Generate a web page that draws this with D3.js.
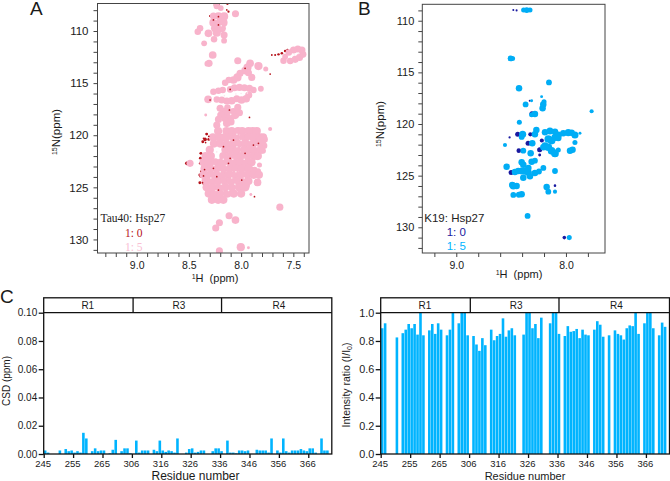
<!DOCTYPE html>
<html>
<head>
<meta charset="utf-8">
<script src="https://cdn.jsdelivr.net/npm/d3@7"></script>
<style>
html, body { margin: 0; padding: 0; background: #fff; }
svg { display: block; }
text { font-family: "Liberation Sans", Arial, sans-serif; fill: #1a1a1a; }
</style>
</head>
<body>
<svg width="670" height="481"></svg>
<script>
// **** data ****
// spectrum peaks are [1H ppm, 15N ppm, intensity]

// Tau40 1:5, outer peaks
var tauPeaks5 = [
    [8.054,108.34,6],[8.233,107.6,5],[8.195,107.8,4],[8.265,108.56,6],[8.217,108.6,8],[8.163,108.6,8],
    [8.265,109.2,8],[8.217,109.26,8],[8.169,109.2,8],[8.249,109.74,8],[8.185,109.74,8],[8.313,110.22,7],
    [8.233,110.16,8],[8.163,110.38,6],[8.393,109.74,5],[8.415,110.06,5],[8.354,111.18,4],[8.259,110.8,5],[8.163,110.93,4],
    [7.418,111.82,6],[7.457,111.73,6],[7.498,111.82,6],[7.543,112.05,5],[7.578,112.46,4],[7.594,112.85,5],
    [7.53,112.88,5],[7.482,112.72,6],[7.441,112.53,6],[7.409,112.24,6],
    [8.272,112.3,7],[8.307,113.1,6],[8.323,113.13,4],[8.032,112.85,6],[7.834,113.36,8],[7.914,113.1,7],[7.939,113.5,8],
    [7.962,113.8,7],[7.93,114,6],[7.764,113.65,3],[7.898,114.45,6],[8.01,114.06,6],[8.035,114.45,8],[8.073,114.7,7],
    [8.118,114.7,5],[8.153,114.96,5],[8.105,115.6,5],[8.064,115.44,6],[8.016,115.41,6],[7.968,115.44,6],[7.92,115.5,6],
    [7.882,115.66,5],[7.811,115.54,4],[8.265,115.82,5],[8.217,115.73,5],[8.176,115.66,5],[7.927,116.14,6],[7.952,116.5,7],
    [7.997,116.62,7],[8.042,116.5,6],[8.09,116.69,7],[8.137,116.72,6],[8.185,116.62,6],[8.233,116.56,5],[8.316,116.55,7],
    [8.201,117.42,6],[8.163,117.74,7],[8.121,117.9,8],[8.073,117.78,8],[8.032,117.33,6],[8.131,117.33,5],[8.195,118.06,6],
    [8.15,118.38,8],[8.105,118.29,8],[8.058,118.06,8],[8.016,117.84,6],[8.099,118.7,7],[8.137,118.86,7],[8.217,118.48,6],[8.233,119.02,6],
    [8.489,122.7,6],[7.629,126.9,6],[8.115,127.73,6],[8.054,128.14,7],[8.208,128.4,6],[8.243,128.9,6],[8.208,131.1,6],
    [8.003,130.74,8],[7.93,130.8,1],[8.339,118.06,1],[7.722,119.4,2],[7.907,125.68,1],[7.824,122.86,3],[7.843,124.53,7],
    [7.872,123.34,5],[7.914,123.28,6],[7.834,123.4,3],[8.0,125.5,3],[7.946,124.78,5],[7.775,120.4,5],[7.78,121.0,5],[7.79,121.5,4]
];
// the packed centre of the Tau40 spectrum, one list of 1H shifts per 15N row
var tauRowN = [119.6,120.2,120.8,121.4,122.0,122.6,123.2,123.8,124.4,125.0,125.6,126.2];
var tauRowH = [
    [8.22,8.14,8.09,8.03,7.99,7.93,7.89,7.85],
    [8.27,8.21,8.16,8.10,8.05,7.98,7.93,7.87,7.82,7.79],
    [8.26,8.20,8.13,8.07,8.02,7.96,7.90,7.85,7.80],
    [8.30,8.15,8.09,8.04,7.97,7.92,7.87,7.81],
    [8.34,8.29,8.17,8.11,8.05,8.0,7.94,7.88,7.84],
    [8.36,8.31,8.25,8.19,8.13,8.07,8.01,7.95,7.90],
    [8.35,8.29,8.23,8.17,8.11,8.05,7.99,7.93],
    [8.36,8.30,8.24,8.18,8.12,8.06,8.00,7.94,7.88,7.83],
    [8.34,8.28,8.22,8.16,8.10,8.04,7.98,7.93],
    [8.33,8.27,8.21,8.15,8.09,8.02,7.96],
    [8.31,8.26,8.20,8.13,8.07,8.00],
    [8.28,8.22,8.17]
];
// Tau40 1:0, the contours that stick out from under the 1:5 peaks
var tauPeaks0 = [
    [8.33,119.89,1],[8.345,120.4,1.5],[8.367,120.62,1],[8.31,120.4,1],[8.28,120.85,1],[8.385,121.74,1],[8.38,123.5,1],
    [8.385,123.9,1.5],[8.395,123.82,1],[8.395,124.56,1],[8.36,124.6,1],[8.39,122.7,1],[8.39,122.2,1],[8.52,122.7,1.5],
    [8.425,110.13,1],[8.249,107.5,1],[8.217,107.45,1],[8.131,107.4,.6],[8.297,108.56,.6],[8.121,108.14,.6],
    [7.706,112.3,.4],[7.674,112.3,.5],[7.642,112.24,.7],[7.61,112.14,.8],[7.578,111.92,.8],[7.556,111.82,.6]
];
// small pieces of the 1:0 contours that show through on top
var tauSpecks0 = [
    [7.962,113.58],[8.217,109.42],[8.105,115.6],[8.233,123.98],[8.121,122.7],[8.105,122.22],[7.882,120.94],[7.962,121.74],
    [8.217,125.26],[7.994,124.3],[8.265,123.18],[8.169,121.1],[8.112,117.58],[7.92,118.29],[7.722,114.13],[7.872,125.9],
    [8.073,120.46],[7.834,120.78],[8.297,116.62],[8.217,108.62],[8.265,108.94],[8.137,107.98],[8.36,123.9],[8.35,123.3],
    [8.36,120.3],[8.34,120.7],[8.31,120.1],[8.37,124.55]
];
// pale gaps between peaks inside the Tau40 blobs
var tauGaps = [
    [8.233,121.6],[8.04,119.9],[8.18,119.4],[8.11,120.5],[8.0,120.5],[7.92,120.5],[7.85,121.1],[8.04,121.1],[8.17,122.3],
    [8.08,122.3],[7.97,122.3],[8.26,122.9],[8.14,122.9],[8.05,123.5],[8.2,123.5],[8.29,124.1],[8.09,124.1],[7.97,124.1],
    [8.19,124.7],[8.06,124.7],[8.24,125.3],[8.12,125.3],[8.0,116.0],[7.94,115.95],[8.05,116.05],[8.16,116.2],[7.49,112.3],
    [7.45,112.15],[8.24,108.9],[8.19,109.5],[8.1,118.0]
];

// K19 1:5
var k19Peaks5 = [
    [8.386,108.97,3],[8.358,108.97,4],[8.328,108.97,3],[8.505,113.65,4],[8.487,113.65,3],[8.155,115.97,4],[8.428,116.55,5],
    [8.368,118.1,4],[8.313,117.75,1],[8.222,117.35,1],[8.207,118.1,5],[8.213,118.48,5],[8.2,117.85,3],[8.283,119.03,5],[8.313,119.1,3],
    [8.425,119.84,3],[8.395,121.0,6],[8.404,121.25,4],[8.27,120.58,5],[8.283,121.0,5],[8.556,122.03,2],[8.307,121.87,5],
    [8.389,122.58,4],[8.322,122.84,5],
    [8.146,120.68,6],[8.1,120.74,5],[8.191,120.8,5],[8.07,121.06,6],[8.024,120.9,5],[7.979,120.84,6],[7.948,120.84,5],[7.918,121.06,6],
    [7.872,120.9,1],[7.918,121.8,3],[8.1,121.3,6],[8.131,121.6,7],[8.161,121.45,7],[8.07,121.35,5],
    [8.191,122.1,6],[8.161,122.25,7],[8.131,122.6,7],[8.1,122.85,7],[8.206,122.25,5],[8.07,122.52,3],[7.963,122.58,5],[7.94,122.5,5],
    [8.404,123.7,5],[8.389,123.95,5],[8.313,123.65,5],[8.283,123.55,4],[8.343,124.25,5],[8.404,124.55,6],[8.374,124.55,7],
    [8.343,124.7,6],[8.435,124.55,5],[8.465,124.65,5],[8.283,124.75,5],[8.246,124.6,4],[8.206,124.25,4],[8.389,125.2,5],[8.328,125.05,5],
    [8.541,124.13,5],[8.1,124.55,4],[8.48,126.0,6],[8.45,126.0,5],[8.49,125.9,5],[8.48,126.87,4],[8.404,126.8,5],[8.43,126.85,4],
    [8.176,126.1,5],[8.161,126.55,4],[8.1,126.55,2],[8.35,128.9,4],[7.97,131,3],[7.766,118.77,2]
];
// K19 1:0, only the parts that show beside the 1:5 peaks
var k19Peaks0 = [
    [8.48,108.97,.5],[8.45,109,.5],[8.31,119.0,3],[8.44,121.0,3],[8.325,121.0,2],[8.514,121.3,.6],[8.345,121.87,3],[8.43,122.58,2.5],
    [8.24,122.5,3],[8.22,121.6,2],[8.1,125.97,.8],[8.015,131,1.5],[8.5,124.7,3],[8.24,123.0,1],[8.33,117.75,.5]
];

// bar charts share the residue axis: R2 is left out
var residues = d3.range(245, 275).concat(d3.range(306, 374));
var residueLabels = [245, 255, 265, 306, 316, 326, 336, 346, 356, 366];
var regionNames = ['R1', 'R3', 'R4'];
var regionCentres = [260, 322, 356];
var csdValues = [
    .0025,.001,0,0,0,.0025,0,.0035,.002,.0025,.001,.002,.001,.015,.011,0,.002,.004,.002,.0025,
    .0025,0,.0005,.003,.01,0,.002,.004,.004,.0005,0,.0095,.001,.0025,.0025,.0025,0,.003,.002,.0095,
    .0025,.0015,.0025,.002,.001,.011,0,0,.001,.0035,.004,.001,.0015,.0025,.0025,0,0,.002,.004,.004,
    .002,0,.0095,.001,.001,.0005,.0025,.0025,.002,.0025,0,0,.003,.0025,.0025,.0025,.001,.011,0,.0025,
    .001,.011,.002,.001,.0025,.0025,.0025,.0035,.0025,.002,.004,.004,.001,0,.011,.0025,.0025,0
];
var ratioValues = [
    .89,.925,0,0,0,.825,0,.855,.88,.92,.89,.92,.845,1,.84,0,.875,.92,.85,.925,
    .88,0,.84,.88,1,0,.925,1,1,.84,0,.835,.775,.73,.82,.77,0,.88,.805,.835,
    .85,.96,.83,.875,.89,.84,0,0,.845,1,1,.89,.92,.82,.965,0,0,.925,1,1,
    .85,0,.835,.905,.865,.87,.885,.82,.88,.845,.84,0,.88,.94,.915,.83,0,.84,0,.875,
    .85,.84,.81,.89,.91,.905,1,.85,0,.925,1,1,.89,0,.84,.93,.90,0
];

var svg = d3.select('svg');
var darkLine = '#444';
var cyan = '#00b4ff';

var radius = d3.scaleSqrt().domain([0, 10]).range([0, 4.6]);

// **** spectrum panels ****
function drawSpectrum(o) {
    var xScale = d3.scaleLinear().domain(o.hDomain).range([o.left, o.right]);
    var yScale = d3.scaleLinear().domain(o.nDomain).range([o.top, o.bottom]);
    var g = svg.append('g');

    var clipId = 'clip-' + o.name;
    svg.append('clipPath').attr('id', clipId).append('rect')
        .attr('x', o.left).attr('y', o.top)
        .attr('width', o.right - o.left).attr('height', o.bottom - o.top);

    var marks = g.append('g').attr('clip-path', 'url(#' + clipId + ')');
    o.layers.forEach(function(layer) {
        marks.selectAll(null)
            .data(layer.peaks)
            .enter()
            .append('circle')
            .attr('cx', function(d) { return xScale(d[0]); })
            .attr('cy', function(d) { return yScale(d[1]); })
            .attr('r', function(d) { return radius(d.length > 2 ? d[2] : layer.size); })
            .attr('fill', layer.colour)
            .attr('stroke', layer.ring || 'none')
            .attr('stroke-width', 0.7);
    });

    g.append('rect')
        .attr('x', o.left).attr('y', o.top)
        .attr('width', o.right - o.left).attr('height', o.bottom - o.top)
        .attr('fill', 'none').attr('stroke', darkLine).attr('stroke-width', 1);

    var yAxis = d3.axisLeft(yScale)
        .tickValues(o.nTicks).tickSize(4).tickPadding(o.nPad)
        .tickFormat(function(d) { return d % 5 === 0 ? d : ''; });
    var xAxis = d3.axisBottom(xScale)
        .tickValues(o.hTicks).tickSize(4).tickPadding(4.5)
        .tickFormat(function(d) { return o.hLabels.indexOf(+d.toFixed(1)) >= 0 ? d.toFixed(1) : ''; });

    var yG = g.append('g').attr('transform', 'translate(' + o.left + ',0)').call(yAxis);
    var xG = g.append('g').attr('transform', 'translate(0,' + o.bottom + ')').call(xAxis);
    [yG, xG].forEach(function(a) {
        a.select('.domain').remove();
        a.selectAll('line').attr('stroke', darkLine);
        a.selectAll('text').attr('font-family', 'Liberation Sans').attr('fill', '#1a1a1a');
    });
    yG.selectAll('text').attr('font-size', o.nTickSize);
    xG.selectAll('text').attr('font-size', o.hTickSize);

    g.append('text').attr('transform', 'translate(' + o.nLabelX + ',' + o.nLabelY + ') rotate(-90)')
        .attr('text-anchor', 'middle').attr('font-size', 11.5)
        .html('<tspan font-size="7" dy="-3">15</tspan><tspan dy="3">N(ppm)</tspan>');
    g.append('text').attr('x', o.hLabelX).attr('y', o.hLabelY)
        .attr('text-anchor', 'middle').attr('font-size', 11)
        .style('white-space', 'pre')
        .html('<tspan font-size="7" dy="-3">1</tspan><tspan dy="3">H  (ppm)</tspan>');

    o.legend.forEach(function(l) {
        g.append('text').attr('x', l.x).attr('y', l.y)
            .attr('font-size', o.legendSize)
            .style('font-family', o.legendFont)
            .style('fill', l.colour)
            .text(l.text);
    });
}

var tauCentre = [];
tauRowN.forEach(function(n, i) {
    tauRowH[i].forEach(function(h) { tauCentre.push([h, n, 8]); });
});

drawSpectrum({
    name: 'a', left: 97.5, right: 309, top: 3.5, bottom: 253,
    hDomain: [9.375, 7.35], nDomain: [107.36, 131.3],
    nTicks: d3.range(108, 132),
    hTicks: d3.range(74, 94).map(function(d) { return d / 10; }),
    hLabels: [9.0, 8.5, 8.0, 7.5],
    nPad: 5, nTickSize: 11.5, hTickSize: 10.5,
    nLabelX: 60, nLabelY: 132, hLabelX: 215, hLabelY: 281.5,
    legendSize: 11.5, legendFont: '"Liberation Serif", serif',
    legend: [
        {x: 100.5, y: 222, text: 'Tau40: Hsp27', colour: '#222'},
        {x: 125, y: 236.5, text: '1: 0', colour: '#b5121b'},
        {x: 125, y: 250.5, text: '1: 5', colour: '#f9c0d4'}
    ],
    layers: [
        {peaks: tauPeaks0, colour: '#b5121b'},
        {peaks: tauPeaks5, colour: '#f8b3cb'},
        {peaks: tauCentre, colour: '#f8b3cb'},
        {peaks: tauGaps, size: 0.3, colour: '#fde6ee'},
        {peaks: tauSpecks0, size: 0.35, colour: '#b5121b'}
    ]
});

drawSpectrum({
    name: 'b', left: 422.3, right: 605, top: 4.3, bottom: 253,
    hDomain: [9.31, 7.644], nDomain: [108.41, 132.49],
    nTicks: d3.range(109, 133),
    hTicks: [9.2, 9.0, 8.8, 8.6, 8.4, 8.2, 8.0, 7.8],
    hLabels: [9.0, 8.0],
    nPad: 4, nTickSize: 11, hTickSize: 10.5,
    nLabelX: 384, nLabelY: 124, hLabelX: 519, hLabelY: 278,
    legendSize: 11.5, legendFont: '"Liberation Sans", sans-serif',
    legend: [
        {x: 424.3, y: 222, text: 'K19: Hsp27', colour: '#222'},
        {x: 446.7, y: 235.5, text: '1: 0', colour: '#1a1aa0'},
        {x: 446.7, y: 250, text: '1: 5', colour: '#00b4ff'}
    ],
    layers: [
        {peaks: k19Peaks0, colour: '#1a1aa0'},
        {peaks: k19Peaks5, colour: '#00adf5'}
    ]
});

// **** residue bar panels ****
function drawBars(o) {
    var step = (o.right - o.left) / residues.length;
    var xBand = d3.scaleBand().domain(residues).range([o.left, o.right]).paddingInner(0.12).paddingOuter(0.06);
    // tick marks sit at the left side of each residue's slot
    var xTick = d3.scalePoint().domain(residues).range([o.left, o.right - step]);
    var yScale = d3.scaleLinear().domain(o.yDomain).range([o.bottom, o.plotTop]);
    var g = svg.append('g');

    g.selectAll('.bar')
        .data(o.values.map(function(v, i) { return {residue: residues[i], value: v}; }).filter(function(d) { return d.value > 0; }))
        .enter()
        .append('rect')
        .attr('class', 'bar')
        .attr('x', function(d) { return xBand(d.residue); })
        .attr('width', xBand.bandwidth())
        .attr('y', function(d) { return yScale(d.value); })
        .attr('height', function(d) { return o.bottom - yScale(d.value); })
        .attr('fill', cyan);

    g.append('rect')
        .attr('x', o.left).attr('y', o.headTop)
        .attr('width', o.right - o.left).attr('height', o.bottom - o.headTop)
        .attr('fill', 'none').attr('stroke', '#111').attr('stroke-width', 1.3);
    g.append('line')
        .attr('x1', o.left).attr('x2', o.right)
        .attr('y1', o.plotTop).attr('y2', o.plotTop)
        .attr('stroke', '#111').attr('stroke-width', 1.3);
    [xTick(306) + 1.2, xTick(336) + step / 2].forEach(function(x) {
        g.append('line')
            .attr('x1', x).attr('x2', x)
            .attr('y1', o.headTop).attr('y2', o.plotTop)
            .attr('stroke', '#111').attr('stroke-width', 1.3);
    });
    regionNames.forEach(function(name, i) {
        g.append('text')
            .attr('x', xTick(regionCentres[i]))
            .attr('y', o.plotTop - 3.5)
            .attr('text-anchor', 'middle')
            .attr('font-size', 10)
            .text(name);
    });

    var yAxis = d3.axisLeft(yScale).tickValues(o.yTicks).tickSize(5).tickPadding(1.5).tickFormat(d3.format(o.yFormat));
    var xAxis = d3.axisBottom(xTick).tickValues(residueLabels).tickSize(4).tickPadding(2);
    var yG = g.append('g').attr('transform', 'translate(' + o.left + ',0)').call(yAxis);
    var xG = g.append('g').attr('transform', 'translate(0,' + o.bottom + ')').call(xAxis);
    [yG, xG].forEach(function(a) {
        a.select('.domain').remove();
        a.selectAll('line').attr('stroke', '#111').attr('stroke-width', 1.3);
        a.selectAll('text').attr('font-family', 'Liberation Sans').attr('fill', '#1a1a1a');
    });
    yG.selectAll('text').attr('font-size', o.yTickSize);
    xG.selectAll('text').attr('font-size', 9.5).attr('dx', -1);

    g.append('text').attr('transform', 'translate(' + o.yLabelX + ',' + o.yLabelY + ') rotate(-90)')
        .attr('text-anchor', 'middle').attr('font-size', o.yLabelSize).html(o.yLabel);
    g.append('text').attr('x', o.xLabelX).attr('y', o.xLabelY)
        .attr('text-anchor', 'middle').attr('font-size', o.xLabelSize).text('Residue number');
}

drawBars({
    left: 43.7, right: 331.8, bottom: 454, plotTop: 312.7, headTop: 297.8,
    values: csdValues, yDomain: [0, 0.1], yTicks: [0, .02, .04, .06, .08, .1], yFormat: '.2f', yTickSize: 10,
    yLabel: 'CSD (ppm)', yLabelX: 9.5, yLabelY: 381, yLabelSize: 10,
    xLabelX: 195.5, xLabelY: 479.5, xLabelSize: 12
});
drawBars({
    left: 380.7, right: 669.5, bottom: 454, plotTop: 312.7, headTop: 297.8,
    values: ratioValues, yDomain: [0, 1], yTicks: [0, .2, .4, .6, .8, 1], yFormat: '.1f', yTickSize: 10.8,
    yLabel: 'Intensity ratio (I/I<tspan font-size="7" dy="2">0</tspan><tspan dy="-2">)</tspan>', yLabelX: 350, yLabelY: 385, yLabelSize: 10.5,
    xLabelX: 525, xLabelY: 479.5, xLabelSize: 11
});

// panel letters
[['A', 30, 15], ['B', 358, 15], ['C', 0, 303]].forEach(function(p) {
    svg.append('text').attr('x', p[1]).attr('y', p[2]).attr('font-size', 19).text(p[0]);
});
</script>
</body>
</html>
